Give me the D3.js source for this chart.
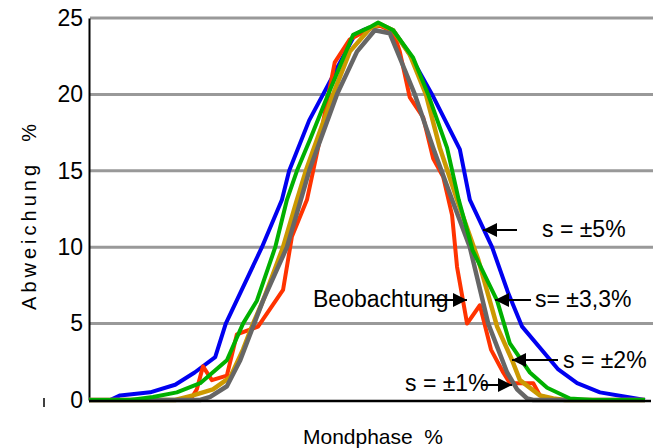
<!DOCTYPE html>
<html>
<head>
<meta charset="utf-8">
<script src="https://cdn.jsdelivr.net/npm/d3@7"></script>
<style>
  body { margin: 0; background: #fff; }
  svg { display: block; }
  text { font-family: "Liberation Sans", Arial, sans-serif; fill: #000; }
</style>
</head>
<body>
<div id="chart"></div>
<script>
// values (x = Mondphase position 0..100, y = Abweichung %)
var yTicks = [0, 5, 10, 15, 20, 25];

var blueX = [0, 3.8, 5.6, 11, 15.5, 19, 22.7, 24.6, 31.1, 34.7, 36, 39.6, 42.1, 47.8, 49.3, 52.3, 54.7, 57.7, 61.7, 66.7, 68.5, 72.5, 75.4, 77.9, 84.4, 87.8, 91.9, 96.8, 100];
var blueY = [0, 0, 0.3, 0.5, 1.0, 1.8, 2.8, 5.0, 10.0, 13.1, 15.0, 18.3, 20.0, 23.9, 24.2, 24.6, 24.2, 22.6, 20.0, 16.4, 13.1, 10.0, 7.0, 4.8, 2.0, 1.1, 0.5, 0.2, 0];

var greenX = [0, 7.4, 11.5, 15.8, 20, 24.8, 27.7, 30.2, 33.5, 35.6, 37.4, 39.7, 43, 47.5, 50.5, 52, 54.7, 58.3, 61, 64.4, 66.5, 69, 73.4, 75.7, 79.3, 82.4, 86.5, 90.6, 100];
var greenY = [0, 0, 0.2, 0.5, 1.1, 2.6, 5.0, 6.5, 10, 13.1, 15, 17, 20, 23.9, 24.4, 24.7, 24.2, 22.4, 20, 16.5, 13.1, 9.8, 6.5, 3.7, 1.8, 0.8, 0.1, 0, 0];

var goldX = [0, 15.5, 18.7, 22.3, 25.4, 27.7, 29.5, 31.3, 34.9, 37.4, 39, 43.9, 46.9, 50.5, 52.3, 54.7, 57.7, 60.6, 63.1, 66.2, 70, 73.4, 76.1, 77.5, 81.1, 83.5, 85.6, 100];
var goldY = [0, 0, 0.3, 0.7, 1.5, 3.3, 5.0, 6.5, 10, 13.1, 15, 20, 22.8, 24.3, 24.6, 24.2, 22.6, 20, 16.5, 13.1, 9.2, 4.8, 2.6, 1.3, 0.3, 0.1, 0, 0];

var grayX = [0, 20, 21.8, 24.8, 27.2, 29.5, 31.3, 35.6, 38.1, 39.6, 44.6, 48.2, 51.4, 54.1, 55.9, 58.6, 61.9, 65.3, 68.5, 71.8, 75.2, 77, 78.8, 79.9, 100];
var grayY = [0, 0, 0.2, 0.9, 2.6, 4.8, 6.5, 10, 13.1, 15, 20, 22.8, 24.2, 24.0, 22.4, 20, 16.5, 13.1, 10, 5.0, 1.8, 0.7, 0.1, 0, 0];

var obsX = [0, 18.2, 19.4, 20.5, 22.1, 24.8, 26.6, 30.4, 34.9, 36.5, 39.2, 41.2, 44.2, 46.9, 50.5, 52.3, 54.7, 55.9, 57.7, 60.1, 61.9, 63.7, 65.3, 66.2, 68, 70.3, 72.3, 74.5, 75.7, 79.9, 81.1, 83.5, 100];
var obsY = [0, 0, 0.7, 2.2, 1.3, 1.6, 4.3, 4.8, 7.2, 10.7, 13.1, 16.5, 22.1, 23.6, 24.3, 24.5, 24.1, 22.8, 19.8, 18.5, 15.8, 14.6, 12.1, 8.7, 5.0, 6.2, 3.3, 1.8, 1.1, 1.1, 0.3, 0, 0];

var labels = ["s = \u00b15%", "s= \u00b13,3%", "s = \u00b12%", "s = \u00b11%", "Beobachtung"];

var W = 664, H = 448;
var margin = { top: 18, right: 19, bottom: 48, left: 89 },
    width = W - margin.left - margin.right,
    height = H - margin.top - margin.bottom;

var x = d3.scaleLinear().domain([0, 100]).range([0, 556]);
var y = d3.scaleLinear().domain([0, 25]).range([height, 0]);

var svg = d3.select("#chart").append("svg")
    .attr("width", W)
    .attr("height", H);

svg.append("defs").append("marker")
    .attr("id", "head")
    .attr("viewBox", "0 0 10 10")
    .attr("refX", 10).attr("refY", 5)
    .attr("markerUnits", "userSpaceOnUse")
    .attr("markerWidth", 16).attr("markerHeight", 14)
    .attr("orient", "auto")
  .append("path")
    .attr("d", "M0,0 L10,5 L0,10 Z")
    .attr("fill", "#000");

var g = svg.append("g")
    .attr("transform", "translate(" + margin.left + "," + margin.top + ")");

// grid lines
g.selectAll(".grid")
    .data(yTicks.filter(function (d) { return d > 0; }))
    .enter().append("line")
    .attr("class", "grid")
    .attr("x1", 1).attr("x2", width + 8)
    .attr("y1", function (d) { return y(d); })
    .attr("y2", function (d) { return y(d); })
    .attr("stroke", "#999")
    .attr("stroke-width", 3);

// y axis
var yAxis = g.append("g")
    .call(d3.axisLeft(y).tickValues(yTicks).tickSize(0).tickPadding(6));
yAxis.select(".domain").attr("stroke", "#000").attr("stroke-width", 2);
yAxis.selectAll("text")
    .style("font-family", "Liberation Sans, Arial, sans-serif")
    .style("font-size", "23px")
    .attr("fill", "#000");

function series(xs, ys) {
    return xs.map(function (d, i) { return [d, ys[i]]; });
}

var line = d3.line()
    .x(function (d) { return x(d[0]); })
    .y(function (d) { return y(d[1]); });

var curves = [
    { data: series(blueX, blueY), color: "#0000f0", w: 4 },
    { data: series(obsX, obsY), color: "#ff3300", w: 4 },
    { data: series(goldX, goldY), color: "#cc9900", w: 4.5 },
    { data: series(grayX, grayY), color: "#666666", w: 4.5 },
    { data: series(greenX, greenY), color: "#00b000", w: 4 }
];

g.selectAll(".curve")
    .data(curves)
    .enter().append("path")
    .attr("class", "curve")
    .attr("d", function (d) { return line(d.data); })
    .attr("fill", "none")
    .attr("stroke", function (d) { return d.color; })
    .attr("stroke-width", function (d) { return d.w; })
    .attr("stroke-linejoin", "round");

// x axis
g.append("line")
    .attr("x1", 0).attr("x2", x(100) + 6)
    .attr("y1", y(0) + 1).attr("y2", y(0) + 1)
    .attr("stroke", "#000")
    .attr("stroke-width", 2.5);

// small stray mark left of the zero label
g.append("line")
    .attr("x1", -45).attr("x2", -45)
    .attr("y1", y(0) - 2).attr("y2", y(0) + 7)
    .attr("stroke", "#000")
    .attr("stroke-width", 1.5);

// axis titles
svg.append("text")
    .attr("x", 373).attr("y", 444)
    .attr("text-anchor", "middle")
    .style("font-size", "21px")
    .style("white-space", "pre")
    .text("Mondphase  %");

svg.append("text")
    .attr("transform", "translate(36,215) rotate(-90)")
    .attr("text-anchor", "middle")
    .style("font-size", "20px")
    .style("letter-spacing", "4px")
    .style("white-space", "pre")
    .text("Abweichung  %");

// annotations
var notes = [
    { t: labels[0], tx: 542, ty: 237, x1: 517, y1: 230, x2: 483, y2: 230 },
    { t: labels[1], tx: 535, ty: 307, x1: 531, y1: 300, x2: 495, y2: 300 },
    { t: labels[2], tx: 563, ty: 368, x1: 558, y1: 360, x2: 512, y2: 360 },
    { t: labels[3], tx: 405, ty: 391, x1: 482, y1: 385, x2: 512, y2: 385 },
    { t: labels[4], tx: 313, ty: 307, x1: 430, y1: 300, x2: 467, y2: 300 }
];

svg.selectAll(".note")
    .data(notes)
    .enter().append("text")
    .attr("class", "note")
    .attr("x", function (d) { return d.tx; })
    .attr("y", function (d) { return d.ty; })
    .style("font-size", "23px")
    .text(function (d) { return d.t; });

svg.selectAll(".arrow")
    .data(notes)
    .enter().append("line")
    .attr("class", "arrow")
    .attr("x1", function (d) { return d.x1; })
    .attr("y1", function (d) { return d.y1; })
    .attr("x2", function (d) { return d.x2; })
    .attr("y2", function (d) { return d.y2; })
    .attr("stroke", "#000")
    .attr("stroke-width", 2)
    .attr("marker-end", "url(#head)");
</script>
</body>
</html>
